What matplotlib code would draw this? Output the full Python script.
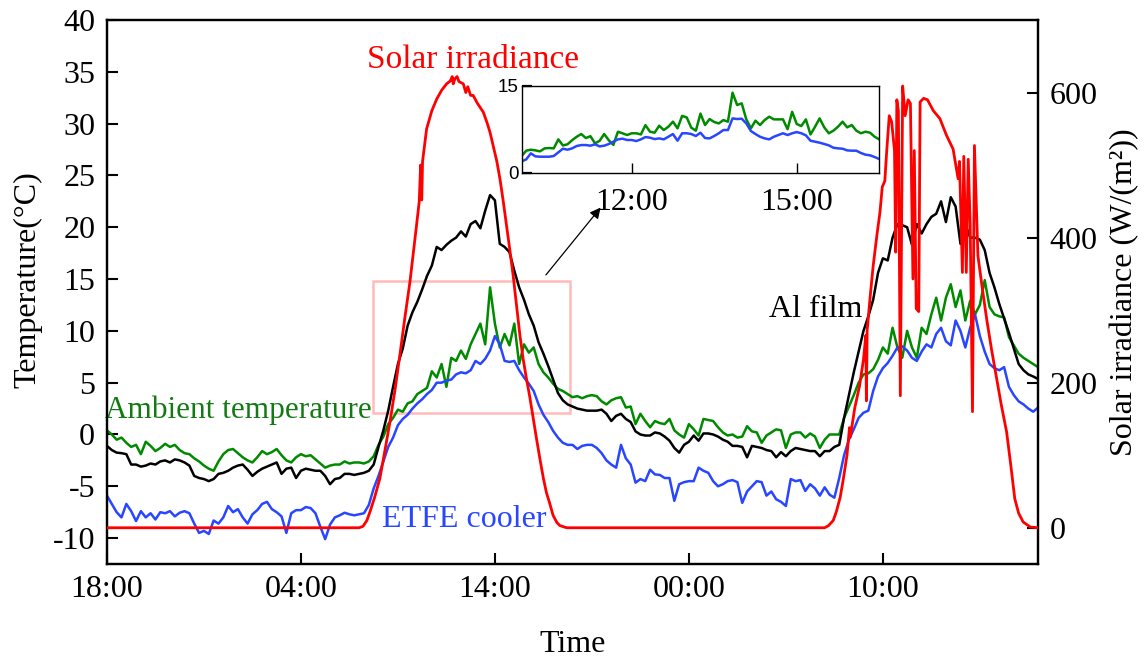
import numpy as np
import matplotlib
matplotlib.use("Agg")
import matplotlib.pyplot as plt
from matplotlib.patches import Rectangle

plt.rcParams['font.family'] = ['Liberation Serif', 'DejaVu Serif']
plt.rcParams['axes.unicode_minus'] = False

# ---------------- data ----------------
# time axis: hours since 18:00 of day 1, 15-min steps
hours = np.arange(0, 48.01, 0.25)
x_ticks = [0, 10, 20, 30, 40]
x_tick_labels = ['18:00', '04:00', '14:00', '00:00', '10:00']

ambient = [
    0.4, 0.0, -0.5, -0.3, -0.8, -1.2, -1.0, -1.9, -0.7, -1.1, -1.6, -1.3,
    -0.9, -1.2, -1.0, -1.5, -1.8, -1.9, -2.3, -2.6, -3.0, -3.3, -3.5, -2.6,
    -1.9, -1.5, -1.4, -1.8, -2.2, -2.5, -2.7, -2.2, -1.6, -1.9, -1.7, -1.4,
    -2.0, -2.5, -2.7, -2.2, -1.9, -2.1, -2.0, -2.4, -2.8, -3.2, -3.0, -2.9,
    -2.9, -2.6, -2.8, -2.7, -2.7, -2.8, -2.6, -2.1, -1.0, -0.2, 1.0, 1.6,
    2.4, 2.2, 3.0, 3.2, 3.9, 4.2, 4.5, 6.1, 5.5, 6.8, 4.6, 7.4,
    7.1, 8.1, 7.3, 8.7, 9.7, 10.7, 8.7, 14.2, 10.7, 8.4, 9.7, 8.6,
    10.7, 6.8, 8.7, 7.9, 8.4, 6.8, 6.0, 5.5, 4.9, 4.4, 4.2, 3.9,
    3.6, 3.7, 3.5, 3.7, 3.8, 3.7, 3.2, 2.9, 3.3, 3.5, 3.6, 2.6,
    2.7, 1.0, 2.0, 1.3, 0.7, 1.3, 1.1, 1.0, 1.5, 0.4, 0.0, -0.3,
    1.0, 0.5, -0.1, 1.5, 1.4, 1.3, 0.7, 0.2, -0.1, 0.0, -0.3, -0.2,
    0.8, 0.3, 0.2, -0.8, -0.1, 0.2, 0.5, 0.4, -1.3, 0.0, 0.2, 0.2,
    -0.3, 0.1, -0.2, -1.3, -0.5, 0.0, 0.0, 0.0, 1.6, 2.7, 3.8, 5.0,
    5.8, 5.9, 6.3, 7.2, 8.4, 7.8, 10.3, 8.4, 7.4, 10.0, 8.4, 7.4,
    10.3, 9.7, 11.6, 13.2, 11.0, 13.2, 14.5, 12.3, 13.9, 11.0, 12.9, 11.6,
    12.5, 14.9, 12.3, 11.6, 11.4, 11.3, 9.4, 8.6, 7.8, 7.4, 7.1, 6.8,
    6.5]

al_film = [
    -1.1, -1.5, -1.75, -1.8, -1.9, -2.9, -2.9, -3.1, -3.0, -2.8, -2.9, -2.6,
    -2.5, -2.7, -2.4, -2.5, -2.7, -3.0, -4.0, -4.2, -4.3, -4.5, -4.3, -3.8,
    -3.7, -3.5, -3.2, -3.0, -2.9, -3.4, -4.0, -3.6, -3.3, -3.1, -2.9, -2.7,
    -3.8, -3.3, -3.2, -4.2, -3.5, -3.3, -3.4, -3.5, -3.5, -4.0, -4.8, -4.3,
    -4.2, -3.8, -3.8, -3.9, -3.8, -3.7, -3.5, -2.9, -1.2, 0.4, 2.3, 4.6,
    6.8, 8.3, 10.5, 11.8, 12.8, 14.0, 15.3, 16.3, 18.1, 17.8, 18.3, 18.7,
    19.0, 19.6, 19.1, 20.3, 20.6, 19.9, 21.6, 23.1, 22.6, 18.4, 18.1, 17.6,
    15.8, 14.2, 13.0, 11.6, 10.5, 8.9, 7.8, 6.6, 5.3, 4.0, 3.3, 2.9,
    2.7, 2.5, 2.4, 2.3, 2.3, 2.3, 2.4, 2.0, 1.3, 1.8, 2.0, 1.5,
    1.2, 0.3, 0.0, -0.1, -0.1, 0.2, 0.1, -0.2, -0.6, -1.3, -1.75, -1.0,
    -0.7, -0.1, -0.6, 0.1, 0.1, 0.0, -0.2, -0.5, -0.7, -1.1, -1.1, -1.2,
    -2.2, -1.1, -1.2, -1.3, -1.5, -1.6, -2.2, -1.7, -2.1, -1.6, -1.3, -1.4,
    -1.5, -1.6, -1.6, -2.1, -1.6, -1.6, -1.2, -1.0, 1.6, 3.8, 6.0, 8.0,
    10.0, 11.4, 13.0, 15.6, 17.0, 16.8, 19.0, 20.3, 20.2, 20.0, 18.3, 20.3,
    19.4, 20.3, 21.0, 21.3, 22.5, 20.5, 22.9, 22.0, 18.4, 20.3, 19.0, 19.0,
    18.8, 17.8, 15.6, 14.2, 12.6, 11.2, 9.8, 8.3, 6.8, 6.2, 5.8, 5.6,
    5.35]

etfe = [
    -5.9, -6.7, -7.5, -8.0, -6.7, -7.4, -8.35, -7.4, -8.0, -7.6, -8.2, -7.5,
    -7.6, -7.4, -7.9, -7.55, -7.4, -7.6, -8.6, -9.5, -9.3, -9.6, -8.3, -8.6,
    -8.0, -6.9, -7.5, -7.2, -8.0, -8.6, -7.7, -7.3, -6.7, -6.5, -7.2, -7.5,
    -7.9, -9.5, -7.6, -7.3, -7.3, -7.0, -7.1, -7.6, -8.9, -10.1, -8.7, -8.0,
    -7.8, -7.55, -7.7, -7.8, -7.7, -7.6, -6.8, -5.2, -4.0, -2.6, -1.2, -0.3,
    0.9, 1.5, 1.9, 2.5, 3.0, 3.4, 3.9, 4.3, 5.0, 5.0, 5.2, 5.3,
    5.8, 6.0, 5.9, 6.2, 7.1, 6.8, 7.3, 8.1, 9.5, 8.7, 7.1, 7.0,
    7.1, 6.2, 5.5, 4.9, 4.2, 2.9, 1.9, 1.2, 0.35, -0.3, -0.8, -1.0,
    -1.0, -1.4, -1.1, -1.0, -1.0, -1.3, -1.8, -2.5, -2.9, -3.2, -1.0, -2.3,
    -2.9, -4.65, -4.3, -4.5, -3.4, -3.85, -3.9, -4.2, -4.2, -6.4, -4.8, -4.6,
    -4.5, -4.5, -3.2, -3.5, -3.7, -4.5, -5.0, -4.8, -4.5, -4.4, -4.6, -6.6,
    -5.5, -5.0, -4.5, -4.6, -5.9, -5.5, -6.25, -6.5, -6.9, -4.3, -4.5, -4.4,
    -5.45, -4.8, -5.2, -5.9, -5.1, -5.8, -6.1, -4.2, -2.0, -0.5, 0.5, 1.6,
    2.1, 2.3, 4.2, 5.6, 6.4, 6.9, 7.6, 8.4, 8.5, 8.1, 7.4, 7.1,
    8.0, 8.7, 8.4, 9.7, 10.3, 9.0, 8.6, 11.0, 10.0, 8.4, 10.3, 11.6,
    9.5, 8.0, 6.8, 6.4, 6.2, 6.5, 4.6, 3.8, 3.2, 2.9, 2.5, 2.2,
    2.6]

solar_time = [
    0.0, 6.0, 13.0, 13.2, 13.4, 13.56, 13.8, 14.07, 14.3, 14.59, 14.85, 15.1,
    15.35, 15.62, 15.8, 15.96, 16.1, 16.17, 16.2, 16.23, 16.27, 16.48, 16.75, 17.0,
    17.25, 17.51, 17.7, 17.8, 17.85, 17.94, 18.05, 18.15, 18.37, 18.5, 18.6, 18.75,
    18.88, 19.1, 19.4, 19.6, 19.75, 19.91, 20.1, 20.26, 20.43, 20.6, 20.77, 20.94,
    21.1, 21.29, 21.46, 21.63, 21.8, 21.98, 22.15, 22.32, 22.5, 22.66, 22.8, 23.0,
    23.2, 23.35, 23.7, 30.0,
    37.0, 37.2, 37.44, 37.6, 37.8, 37.96, 38.15, 38.28, 38.32, 38.55, 38.8, 39.0,
    39.12, 39.15, 39.19, 39.35, 39.5, 39.7, 39.85, 39.97, 40.1, 40.2, 40.33, 40.45,
    40.6, 40.66, 40.72, 40.8, 40.9, 41.02, 41.15, 41.3, 41.42, 41.55, 41.62, 41.72,
    41.85, 41.92, 42.1, 42.3, 42.6, 42.94, 43.28, 43.62, 43.88, 43.95, 44.1, 44.17,
    44.3, 44.4, 44.5, 44.62, 44.72, 44.9, 45.1, 45.35, 45.6, 45.87, 46.1, 46.38,
    46.6, 46.8, 47.0, 47.23, 47.6, 48.0]
solar = [
    0, 0, 0, 2, 10, 22, 42, 68, 102, 146, 190, 238,
    288, 339, 380, 417, 450, 500, 455, 452, 505, 550, 575, 591,
    603, 612, 616, 622, 612, 619, 622, 615, 612, 600, 608, 596,
    596, 585, 573, 558, 545, 527, 505, 481, 450, 417, 383, 348,
    310, 265, 232, 205, 180, 150, 122, 95, 68, 48, 36, 17,
    7, 3, 0, 0,
    0, 3, 10, 22, 42, 67, 100, 138, 125, 165, 196, 232,
    265, 175, 272, 320, 361, 405, 435, 470, 478, 520, 568, 560,
    520, 380, 590, 575, 182, 609, 568, 590, 585, 343, 520, 302,
    298, 587, 592, 590, 575, 564, 541, 522, 481, 505, 352, 512,
    352, 508, 420, 160, 527, 375, 335, 288, 246, 205, 170, 132,
    85, 40, 20, 8, 1, 0]

# inset: minutes after 10:00, 5-min steps
inset_minutes = np.arange(0, 391, 5)
inset_ticks = [120, 300]
inset_tick_labels = ['12:00', '15:00']
inset_ambient = [
    2.88, 3.8, 3.97, 3.85, 3.68, 4.2, 4.26, 4.2, 5.75, 4.7, 4.9, 5.6, 6.2, 6.67,
    5.98, 6.3, 5.06, 5.5, 6.67, 5.6, 4.8, 7.07, 6.8, 6.5, 6.8, 6.8, 6.6, 8.2,
    7.07, 6.9, 8.1, 7.36, 7.93, 8.8, 7.65, 9.8, 9.54, 7.76, 7.25, 10.2, 8.22, 9.26,
    8.74, 8.5, 9.08, 8.8, 13.8, 11.67, 11.96, 9.2, 7.65, 8.97, 8.22, 9.08, 9.66, 9.2,
    9.2, 9.2, 7.5, 10.5, 8.4, 8.05, 9.2, 6.6, 7.93, 9.37, 7.82, 6.8, 7.25, 7.93,
    8.8, 7.82, 8.22, 7.25, 6.8, 7.07, 6.9, 6.2, 5.75]
inset_etfe = [
    1.96, 2.3, 3.34, 2.82, 2.76, 2.76, 2.76, 2.88, 3.51, 4.14, 3.97, 4.2, 4.6, 4.77,
    4.77, 4.66, 4.9, 4.54, 4.66, 4.95, 5.35, 5.75, 5.87, 5.64, 5.64, 5.46, 5.75, 6.15,
    6.04, 5.8, 5.92, 5.75, 6.2, 6.67, 5.52, 6.8, 6.8, 6.67, 6.33, 6.9, 5.98, 5.92,
    6.33, 6.8, 7.36, 7.36, 9.37, 9.26, 9.31, 8.5, 7.19, 6.67, 6.2, 5.92, 5.75, 6.2,
    6.5, 6.8, 6.5, 6.8, 7.01, 6.8, 6.44, 5.52, 5.35, 5.18, 4.95, 4.72, 4.31, 4.2,
    4.14, 3.85, 3.8, 3.8, 3.4, 3.11, 3.0, 2.7, 2.36]

# ---------------- styles ----------------
GREEN = '#008a00'
GREEN_TXT = '#137a13'
BLUE = '#2846ff'
RED = '#ff0000'
FS = 23
LW = 1.8

fig = plt.figure(figsize=(11.45, 6.62), dpi=100)
ax = fig.add_axes([0.0934, 0.148, 0.8132, 0.8218])

ax.plot(hours, ambient, color=GREEN, lw=LW, zorder=2)
ax.plot(hours, al_film, color='black', lw=LW, zorder=2)
ax.plot(hours, etfe, color=BLUE, lw=LW, zorder=2)

ax.set_xlim(0, 48)
ax.set_ylim(-12.5, 40)
ax.set_yticks(range(-10, 41, 5))
ax.set_xticks(x_ticks)
ax.set_xticklabels(x_tick_labels)
ax.tick_params(axis='both', direction='in', length=8, width=1.5, labelsize=FS,
               top=False, right=False)
ax.tick_params(axis='x', pad=8)
ax.tick_params(axis='y', pad=8.5)
for s in ax.spines.values():
    s.set_linewidth(1.6)

# zoom box and arrow
ax.add_patch(Rectangle((13.71, 2.1), 10.18, 12.7, fill=False,
                       edgecolor='#ffbaba', lw=1.8, zorder=1))
ax.annotate('', xy=(25.45, 21.9), xytext=(22.63, 15.4),
            arrowprops=dict(arrowstyle='-|>', color='black', lw=0.9,
                            mutation_scale=16, shrinkA=0, shrinkB=0))

# series labels
ax.text(18.87, 35.36, 'Solar irradiance', color=RED, fontsize=24,
        ha='center', va='baseline')
ax.text(6.75, 1.6, 'Ambient temperature', color=GREEN_TXT, fontsize=22.5,
        ha='center', va='baseline')
ax.text(18.4, -8.94, 'ETFE cooler', color=BLUE, fontsize=23,
        ha='center', va='baseline')
ax.text(36.55, 11.37, 'Al film', color='black', fontsize=23,
        ha='center', va='baseline')

# right axis: solar irradiance
ax2 = ax.twinx()
ax2.plot(solar_time, solar, color=RED, lw=2.0, zorder=3)
ax2.set_ylim(-50, 700)
ax2.set_yticks([0, 200, 400, 600])
ax2.tick_params(axis='y', direction='in', length=8, width=1.5, labelsize=FS, pad=8.5)
for s in ax2.spines.values():
    s.set_linewidth(1.6)

# axis labels
fig.text(0.0245, 0.577, 'Temperature(°C)', rotation=90, fontsize=FS,
         ha='center', va='center')
fig.text(0.9825, 0.559, 'Solar irradiance (W/(m²))', rotation=90, fontsize=FS,
         ha='center', va='center')
fig.text(0.5, 0.026, 'Time', fontsize=FS, ha='center', va='center')

# inset
axins = fig.add_axes([0.4556, 0.7391, 0.3123, 0.1314])
axins.plot(inset_minutes, inset_ambient, color=GREEN, lw=LW)
axins.plot(inset_minutes, inset_etfe, color=BLUE, lw=LW)
axins.set_xlim(0, 390)
axins.set_ylim(0, 15)
axins.set_yticks([0, 15])
axins.set_xticks(inset_ticks)
axins.set_xticklabels(inset_tick_labels, fontsize=FS)
axins.tick_params(axis='x', direction='in', length=7, width=1.0, pad=11)
axins.tick_params(axis='y', direction='in', length=7, width=1.6, pad=2)
for lab in axins.get_yticklabels():
    lab.set_fontfamily('Liberation Sans')
    lab.set_fontsize(13.5)
for s in axins.spines.values():
    s.set_linewidth(1.0)

fig.savefig('out.png', dpi=100)
